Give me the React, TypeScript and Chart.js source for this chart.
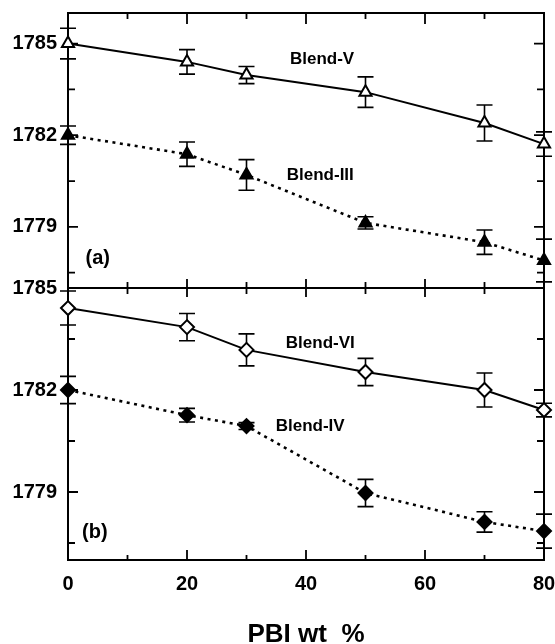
import React, { useEffect, useRef } from 'react';
import { Chart, registerables } from 'chart.js';

Chart.register(...registerables);

// PBI content (wt %)
const pbiWt = [0, 20, 30, 50, 70, 80];

// Panel (a)
const blendV = [1785.0, 1784.4, 1783.97, 1783.41, 1782.4, 1781.71];
const blendVErr = [0.5, 0.4, 0.28, 0.5, 0.59, 0.4];
const blendIII = [1782.0, 1781.38, 1780.7, 1779.13, 1778.5, 1777.9];
const blendIIIErr = [0.3, 0.4, 0.5, 0.2, 0.4, 0.7];

// Panel (b)
const blendVI = [1784.41, 1783.85, 1783.18, 1782.53, 1782.0, 1781.41];
const blendVIErr = [0.5, 0.4, 0.47, 0.4, 0.5, 0.2];
const blendIV = [1782.0, 1781.26, 1780.94, 1778.97, 1778.12, 1777.85];
const blendIVErr = [0.4, 0.2, 0.1, 0.4, 0.3, 0.5];

// Axes
const xTickLabels = [0, 20, 40, 60, 80];
const xMinorTicks = [10, 30, 50, 70];
const yTickLabels = [1779, 1782, 1785];
const yMinorTicks = [1777.5, 1780.5, 1783.5];

// In-plot labels (data coordinates)
const annotations = [
  { text: 'Blend-V', x: 42.7, y: 1784.49, axis: 'yA', kind: 'name' },
  { text: 'Blend-III', x: 42.4, y: 1780.7, axis: 'yA', kind: 'name' },
  { text: '(a)', x: 5.0, y: 1777.98, axis: 'yA', kind: 'panel' },
  { text: 'Blend-VI', x: 42.4, y: 1783.38, axis: 'yB', kind: 'name' },
  { text: 'Blend-IV', x: 40.7, y: 1780.94, axis: 'yB', kind: 'name' },
  { text: '(b)', x: 4.5, y: 1777.82, axis: 'yB', kind: 'panel' },
];

const FONT = '"Liberation Sans", Arial, Helvetica, sans-serif';

const framePlugin = {
  id: 'framePlugin',
  beforeDatasetsDraw(chart: any) {
    const { ctx, chartArea, scales } = chart;
    const xs = scales.x;
    const yA = scales.yA;
    const yB = scales.yB;
    const { left, right, top, bottom } = chartArea;
    const mid = yA.bottom;
    ctx.save();
    ctx.strokeStyle = '#000';
    ctx.lineWidth = 2;
    ctx.lineCap = 'butt';
    ctx.strokeRect(left, top, right - left, bottom - top);
    ctx.beginPath();
    ctx.moveTo(left, mid);
    ctx.lineTo(right, mid);
    ctx.stroke();

    ctx.lineWidth = 1.8;
    const xs10 = [...xTickLabels, ...xMinorTicks].filter((v) => v > 0 && v < 80);
    ctx.beginPath();
    for (const v of xs10) {
      const px = xs.getPixelForValue(v);
      const major = v % 20 === 0;
      ctx.moveTo(px, top);
      ctx.lineTo(px, top + (major ? 11 : 6));
      ctx.moveTo(px, mid - (major ? 9 : 6));
      ctx.lineTo(px, mid + (major ? 9 : 6));
      ctx.moveTo(px, bottom);
      ctx.lineTo(px, bottom - (major ? 10 : 5));
    }
    for (const sc of [yA, yB]) {
      for (const v of [...yTickLabels, ...yMinorTicks]) {
        if (v <= sc.min || v >= sc.max) continue;
        const py = sc.getPixelForValue(v);
        const major = yTickLabels.includes(v);
        ctx.moveTo(left, py);
        ctx.lineTo(left + (major ? 10 : 7), py);
        ctx.moveTo(right, py);
        ctx.lineTo(right - (major ? 10 : 7), py);
      }
    }
    ctx.stroke();

    // error bars
    ctx.lineWidth = 1.6;
    chart.data.datasets.forEach((ds: any) => {
      const sc = scales[ds.yAxisID];
      const errs: number[] = ds.errors;
      ctx.beginPath();
      ds.data.forEach((p: any, i: number) => {
        const px = xs.getPixelForValue(p.x);
        const t = sc.getPixelForValue(p.y + errs[i]);
        const b = sc.getPixelForValue(p.y - errs[i]);
        ctx.moveTo(px, t);
        ctx.lineTo(px, b);
        ctx.moveTo(px - 8, t);
        ctx.lineTo(px + 8, t);
        ctx.moveTo(px - 8, b);
        ctx.lineTo(px + 8, b);
      });
      ctx.stroke();
    });
    ctx.restore();
  },
  afterDatasetsDraw(chart: any) {
    const { ctx, scales } = chart;
    ctx.save();
    ctx.fillStyle = '#000';
    ctx.textAlign = 'center';
    ctx.textBaseline = 'middle';
    for (const a of annotations) {
      ctx.font = a.kind === 'panel' ? `bold 20px ${FONT}` : `bold 17px ${FONT}`;
      ctx.fillText(a.text, scales.x.getPixelForValue(a.x), scales[a.axis].getPixelForValue(a.y));
    }
    ctx.restore();
  },
};

function series(label: string, ys: number[], errs: number[], axis: string, style: string, filled: boolean, dotted: boolean) {
  return {
    label,
    data: pbiWt.map((x, i) => ({ x, y: ys[i] })),
    errors: errs,
    yAxisID: axis,
    xAxisID: 'x',
    borderColor: '#000',
    borderWidth: dotted ? 2.6 : 2,
    borderDash: dotted ? [3, 4.5] : [],
    pointStyle: style,
    pointRadius: 7,
    pointBackgroundColor: filled ? '#000' : '#fff',
    pointBorderColor: '#000',
    pointBorderWidth: 2,
    tension: 0,
    clip: false,
  };
}

export default function App() {
  const ref = useRef<HTMLCanvasElement>(null);
  useEffect(() => {
    if (!ref.current) return;
    const tickFont = { family: FONT, size: 20, weight: 'bold' as const };
    const yCommon = (min: number, max: number, weight: number) => ({
      type: 'linear' as const,
      position: 'left' as const,
      stack: 'panels',
      stackWeight: weight,
      min,
      max,
      afterBuildTicks: (s: any) => {
        s.ticks = yTickLabels.map((v) => ({ value: v }));
      },
      afterFit: (s: any) => {
        s.width = 68;
        s.paddingTop = 0;
        s.paddingBottom = 0;
      },
      ticks: { padding: 3, color: '#000', font: tickFont, callback: (v: any) => String(v) },
      grid: { display: false },
      border: { display: false },
    });
    const chart = new Chart(ref.current, {
      type: 'line',
      data: {
        datasets: [
          series('Blend-V', blendV, blendVErr, 'yA', 'triangle', false, false),
          series('Blend-III', blendIII, blendIIIErr, 'yA', 'triangle', true, true),
          series('Blend-VI', blendVI, blendVIErr, 'yB', 'rectRot', false, false),
          series('Blend-IV', blendIV, blendIVErr, 'yB', 'rectRot', true, true),
        ] as any,
      },
      options: {
        animation: false,
        responsive: false,
        layout: { padding: { top: 13, right: 11, left: 0, bottom: 0 } },
        plugins: { legend: { display: false }, tooltip: { enabled: false } },
        scales: {
          x: {
            type: 'linear',
            position: 'bottom',
            min: 0,
            max: 80,
            afterBuildTicks: (s: any) => {
              s.ticks = xTickLabels.map((v) => ({ value: v }));
            },
            afterFit: (s: any) => {
              s.height = 84;
              s.paddingLeft = 0;
              s.paddingRight = 0;
            },
            ticks: { padding: 4, color: '#000', font: tickFont, callback: (v: any) => String(v) },
            grid: { display: false },
            border: { display: false },
            title: {
              display: true,
              text: 'PBI wt  %',
              color: '#000',
              font: { family: FONT, size: 26, weight: 'bold' },
              padding: { top: 0, bottom: -6 },
            },
          },
          yB: yCommon(1777, 1785, 272),
          yA: yCommon(1777, 1786, 275),
        } as any,
      },
      plugins: [framePlugin],
    });
    return () => chart.destroy();
  }, []);
  return (
    <div style={{ position: 'absolute', left: 0, top: 0, width: 555, height: 644, background: '#fff' }}>
      <canvas ref={ref} width={555} height={644} style={{ display: 'block' }} />
    </div>
  );
}
